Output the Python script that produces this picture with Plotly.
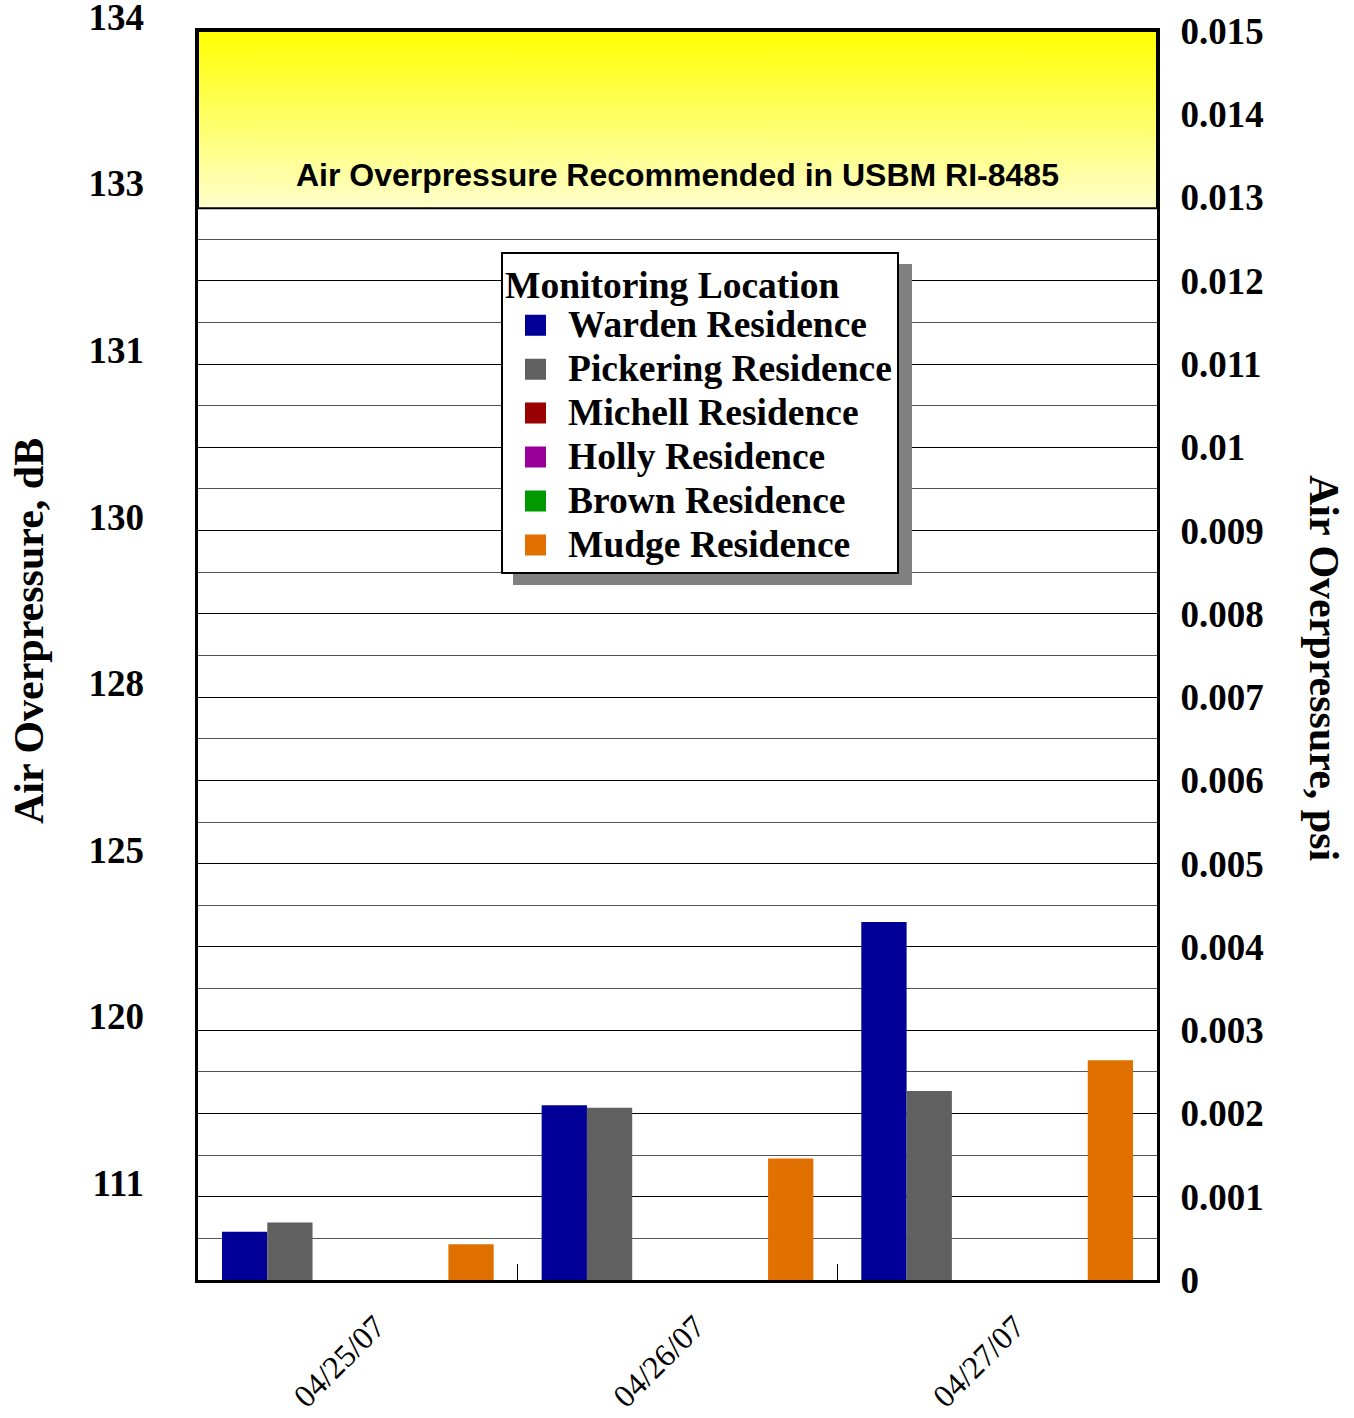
import plotly.graph_objects as go

dates = ["04/25/07", "04/26/07", "04/27/07"]
series_names = ["Warden Residence", "Pickering Residence", "Michell Residence",
                "Holly Residence", "Brown Residence", "Mudge Residence"]
series_colors = ["#000099", "#606060", "#990000", "#990099", "#009900", "#E07000"]
warden = [0.00058, 0.00210, 0.00430]
pickering = [0.00069, 0.00207, 0.00227]
michell = [None, None, None]
holly = [None, None, None]
brown = [None, None, None]
mudge = [0.00043, 0.00146, 0.00264]
series_values = [warden, pickering, michell, holly, brown, mudge]

psi_ticks = [0, 0.001, 0.002, 0.003, 0.004, 0.005, 0.006, 0.007, 0.008,
             0.009, 0.01, 0.011, 0.012, 0.013, 0.014, 0.015]
psi_ticktext = ["0", "0.001", "0.002", "0.003", "0.004", "0.005", "0.006", "0.007",
                "0.008", "0.009", "0.01", "0.011", "0.012", "0.013", "0.014", "0.015"]
db_tickvals = [0.015, 0.013, 0.011, 0.009, 0.007, 0.005, 0.003, 0.001]
db_ticktext = ["134", "133", "131", "130", "128", "125", "120", "111"]

band_low = 0.01287
band_high = 0.015
band_label = "Air Overpressure Recommended in USBM RI-8485"
legend_title = "Monitoring Location"

SERIF = "Liberation Serif"
SANS = "Liberation Sans"

W, H = 1354, 1418
L, T = 198, 31
R = W - 1157
B = H - 1280
pw = W - L - R
ph = H - T - B

def px(xp):
    return (xp - L) / pw

def py(yp):
    return (H - B - yp) / ph

fig = go.Figure()

# recommended band with vertical gradient
fig.add_trace(go.Scatter(
    x=[0, 1, 1, 0, 0], y=[band_low, band_low, band_high, band_high, band_low],
    xaxis="x2", yaxis="y", mode="lines", fill="toself",
    fillgradient=dict(type="vertical", colorscale=[[0, "#FFFFCC"], [1, "#FFFF00"]]),
    line=dict(color="black", width=2), showlegend=False, hoverinfo="skip"))

for name, vals, col in zip(series_names, series_values, series_colors):
    fig.add_trace(go.Bar(x=dates, y=vals, name=name, marker=dict(color=col, line=dict(width=0)),
                         showlegend=False, xaxis="x", yaxis="y"))

LEG_TXT = 37.5
for name, col in zip(series_names, series_colors):
    fig.add_trace(go.Scatter(x=[None], y=[None], mode="markers",
                             name=f"<span style='font-size:{LEG_TXT}px'><b>{name}</b></span>",
                             marker=dict(symbol="square", size=16, color=col,
                                         line=dict(color=col, width=5)),
                             xaxis="x", yaxis="y"))

fig.add_trace(go.Scatter(x=[None], y=[None], yaxis="y2", xaxis="x", showlegend=False))

fig.update_layout(
    width=W, height=H,
    margin=dict(l=L, r=R, t=T, b=B, autoexpand=False),
    paper_bgcolor="white", plot_bgcolor="white",
    barmode="group", bargap=0.15, bargroupgap=0,
    xaxis=dict(type="category", categoryorder="array", categoryarray=dates,
               showline=True, linecolor="black", linewidth=3, mirror=True, automargin=False,
               tickson="boundaries", ticks="inside", ticklen=16, tickcolor="black", tickwidth=1,
               tickangle=-45, ticklabelshift=18, ticklabelstandoff=12,
               tickfont=dict(family=SERIF, size=32, color="black"),
               showgrid=False, zeroline=False),
    xaxis2=dict(overlaying="x", range=[0, 1], visible=False),
    yaxis=dict(side="right", range=[0, 0.015], tickvals=psi_ticks, ticktext=psi_ticktext,
               showgrid=True, gridcolor="black", gridwidth=1, automargin=False,
               minor=dict(dtick=0.0005, showgrid=True, gridcolor="#555555", gridwidth=1),
               showline=True, linecolor="black", linewidth=3, mirror=True,
               ticks="", zeroline=False, ticklabelstandoff=13,
               tickfont=dict(family=SERIF, size=37, color="black", weight="bold")),
    yaxis2=dict(overlaying="y", side="left", range=[0, 0.015], tickvals=db_tickvals,
                ticktext=db_ticktext, showgrid=False, zeroline=False, ticks="", automargin=False,
                ticklabelstandoff=53, ticklabelshift=-14, ticklabeloverflow="allow",
                tickfont=dict(family=SERIF, size=37, color="black", weight="bold")),
    legend=dict(x=px(501), y=py(252), xanchor="left", yanchor="top",
                bgcolor="white", bordercolor="black", borderwidth=2,
                title=dict(text=f"<span style='font-size:{LEG_TXT}px'><b>{legend_title}</b></span>",
                           font=dict(family=SERIF, size=34, color="black")),
                font=dict(family=SERIF, size=31.5, color="black"),
                itemwidth=55, tracegroupgap=0),
    shapes=[dict(type="rect", xref="paper", yref="paper",
                 x0=px(513), x1=px(912), y0=py(585), y1=py(264),
                 fillcolor="#808080", line=dict(width=0), layer="above")],
    annotations=[
        dict(text="<b>" + band_label + "</b>", xref="paper", yref="paper", x=0.5, y=py(175),
             xanchor="center", yanchor="middle",
             showarrow=False, font=dict(family=SANS, size=32, color="black")),
        dict(text="<b>Air Overpressure, dB</b>", xref="paper", yref="paper",
             x=px(29), y=py(631), textangle=-90, showarrow=False,
             xanchor="center", yanchor="middle",
             font=dict(family=SERIF, size=42, color="black")),
        dict(text="<b>Air Overpressure, psi</b>", xref="paper", yref="paper",
             x=px(1324), y=py(668), textangle=90, showarrow=False,
             xanchor="center", yanchor="middle",
             font=dict(family=SERIF, size=42, color="black")),
    ],
)

fig.write_html("out.html", config={"displayModeBar": False},
               post_script="document.body.style.margin='0px';")
